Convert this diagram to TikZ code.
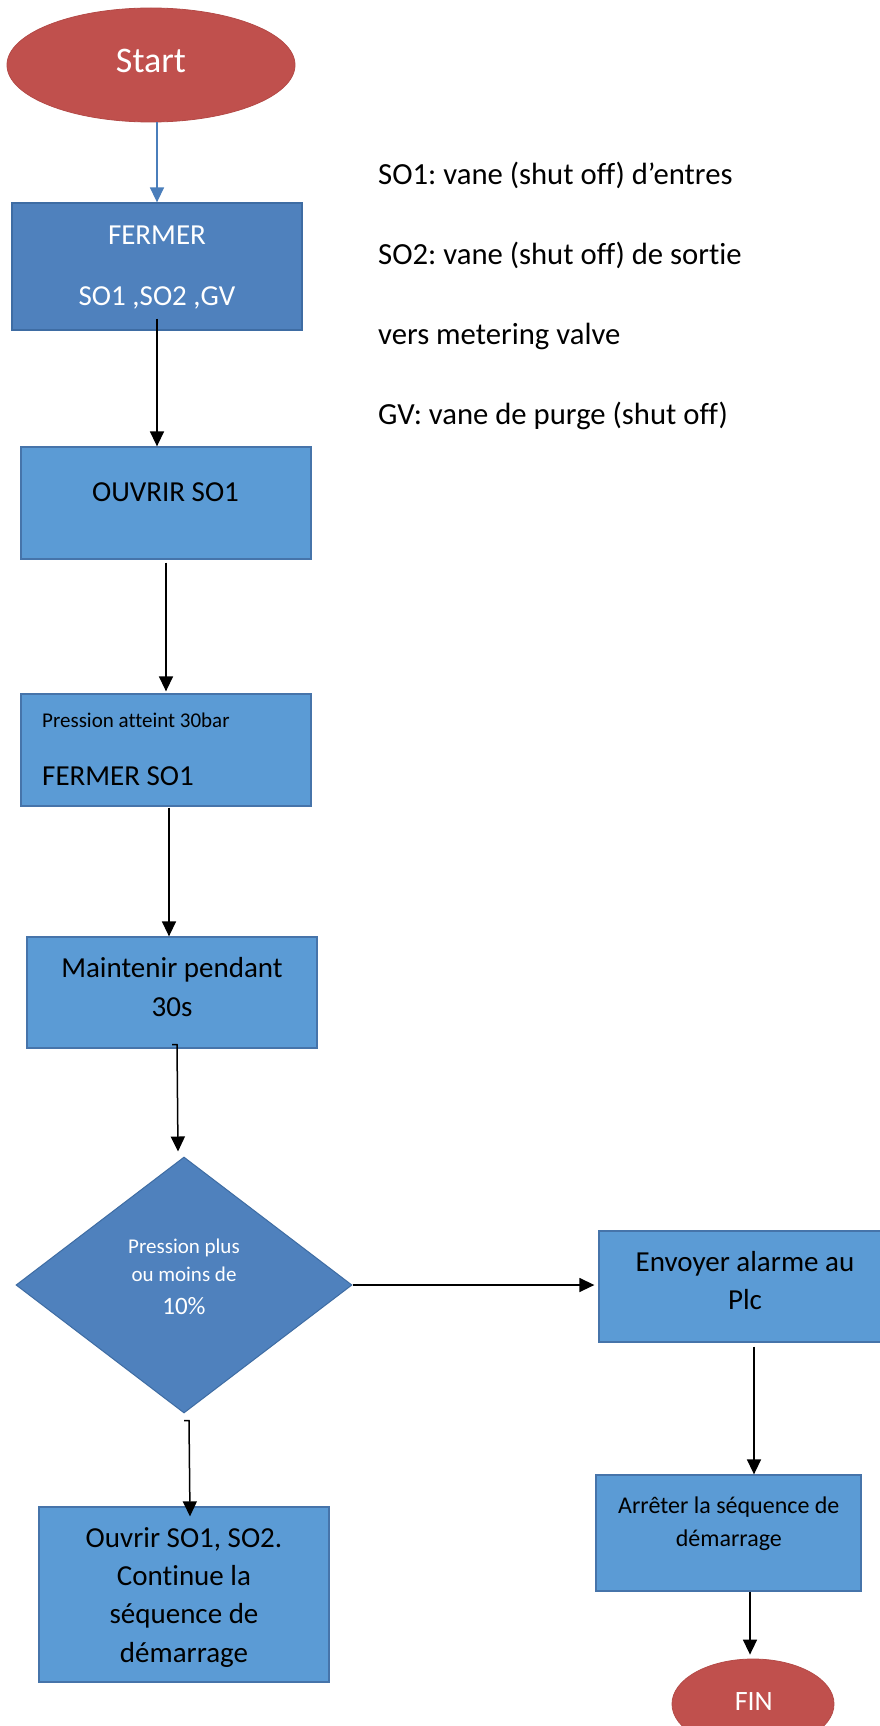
\documentclass[tikz,border=0pt]{standalone}
\usepackage{fontspec}
\setmainfont{Carlito}[Ligatures={TeX,NoCommon}]
\frenchspacing
\usetikzlibrary{shapes.geometric,arrows.meta}
\definecolor{termred}{HTML}{C0504D}
\definecolor{termline}{HTML}{B44A47}
\definecolor{darkfill}{HTML}{4F81BD}
\definecolor{darkline}{HTML}{3E6CA3}
\definecolor{boxfill}{HTML}{5B9BD5}
\definecolor{boxline}{HTML}{4674AA}
\definecolor{arrowblue}{HTML}{4A7EBB}
\begin{document}
\begin{tikzpicture}[x=1pt,y=-1pt,
  box/.style={rectangle, draw=boxline, fill=boxfill, line width=1.3pt, inner sep=0pt},
  darkbox/.style={rectangle, draw=darkline, fill=darkfill, line width=1.3pt, inner sep=0pt},
  term/.style={ellipse, fill=termred, draw=termline, line width=0.8pt, inner sep=0pt},
  arr/.style={draw=black, line width=1.5pt, -{Triangle[length=15pt,width=14pt]}},
  bluearr/.style={draw=arrowblue, line width=1.5pt, -{Triangle[length=15pt,width=14pt]}},
  txt/.style={inner sep=0pt, anchor=base, font=\fontsize{29}{35}\selectfont},
  ltxt/.style={inner sep=0pt, anchor=base west},
  wtxt/.style={txt, text=white}]
\useasboundingbox (0,0) rectangle (880,1726);
\fill[white] (0,0) rectangle (880,1726);
\clip (0,0) rectangle (880,1726);

% shapes
\node[term, minimum width=288pt, minimum height=114pt] (start) at (151,65) {};
\node[darkbox, minimum width=290pt, minimum height=127pt] (fermer) at (157,266.5) {};
\node[box, minimum width=290pt, minimum height=112pt] (ouvrir) at (166,503) {};
\node[box, minimum width=290pt, minimum height=112pt] (press) at (166,750) {};
\node[box, minimum width=290pt, minimum height=111pt] (maint) at (172,992.5) {};
\node[diamond, fill=darkfill, draw=darkline, line width=1pt, inner sep=0pt,
      minimum width=336pt, minimum height=256pt] (diam) at (184,1285) {};
\node[box, minimum width=290pt, minimum height=175pt] (ouvr2) at (184,1594.5) {};
\node[box, minimum width=292pt, minimum height=111pt] (env) at (745,1286.5) {};
\node[box, minimum width=265pt, minimum height=116pt] (arret) at (728.5,1533) {};
\node[term, minimum width=162pt, minimum height=90pt] (fin) at (753,1704) {};

% texts
\node[wtxt, font=\fontsize{36}{43}\selectfont] (tstart) at (151,73) {Start};
\node[wtxt] (tf1) at (157,244) {FERMER};
\node[wtxt] (tf2) at (157,305) {SO1 ,SO2 ,GV};
\node[txt] (to1) at (165.5,501) {OUVRIR SO1};
\node[ltxt, font=\fontsize{21}{25}\selectfont] (tp1) at (42,727) {Pression atteint 30bar};
\node[ltxt, font=\fontsize{29}{35}\selectfont] (tp2) at (42,785) {FERMER SO1};
\node[txt] (tm1) at (172,977) {Maintenir pendant};
\node[txt] (tm2) at (172,1016) {30s};
\node[wtxt, font=\fontsize{21}{25}\selectfont] (td1) at (184,1253) {Pression plus};
\node[wtxt, font=\fontsize{21}{25}\selectfont] (td2) at (184,1281) {ou moins de};
\node[wtxt, font=\fontsize{25}{30}\selectfont] (td3) at (184,1314) {10\%};
\node[txt] (tc1) at (184,1547) {Ouvrir SO1, SO2.};
\node[txt] (tc2) at (184,1585) {Continue la};
\node[txt] (tc3) at (184,1623) {séquence de};
\node[txt] (tc4) at (184,1662) {démarrage};
\node[txt] (te1) at (745,1271) {Envoyer alarme au};
\node[txt] (te2) at (745,1309) {Plc};
\node[txt, font=\fontsize{24}{29}\selectfont] (ta1) at (728.8,1513) {Arrêter la séquence de};
\node[txt, font=\fontsize{24}{29}\selectfont] (ta2) at (728.8,1546) {démarrage};
\node[wtxt, font=\fontsize{28}{34}\selectfont] (tfin) at (753.8,1710) {FIN};

% legend
\begin{scope}[font=\fontsize{30.7}{37}\selectfont]
\node[ltxt] (l1) at (378,184) {SO1: vane (shut off) d’entres};
\node[ltxt] (l2) at (378,264) {SO2: vane (shut off) de sortie};
\node[ltxt] (l3) at (378,344) {vers metering valve};
\node[ltxt] (l4) at (378,424) {GV: vane de purge (shut off)};
\end{scope}

% connectors
\draw[bluearr] (start.south -| fermer.north) -- (fermer.north);
\draw[arr] ([yshift=12pt]fermer.south) -- (fermer.south |- ouvrir.north);
\draw[arr] ([yshift=-3pt]ouvrir.south) -- ([yshift=2pt]ouvrir.south |- press.north);
\draw[arr] ([xshift=3pt,yshift=-1pt]press.south) -- ([xshift=-3pt]maint.north);
\draw[arr] ([yshift=4pt]maint.south) -- ++(5,0) -- ([xshift=-6pt,yshift=5pt]diam.north);
\draw[arr] ([yshift=-7pt]diam.south) -- ++(5,0) -- ([xshift=6pt,yshift=-10pt]ouvr2.north);
\draw[arr] (diam.east) -- ([xshift=-4pt]diam.east -| env.west);
\draw[arr] ([xshift=9pt,yshift=-4pt]env.south) -- ([xshift=9pt]env.south |- arret.north);
\draw[arr] ([xshift=21.5pt]arret.south) -- ([xshift=-3pt,yshift=4pt]fin.north);
\end{tikzpicture}
\end{document}
